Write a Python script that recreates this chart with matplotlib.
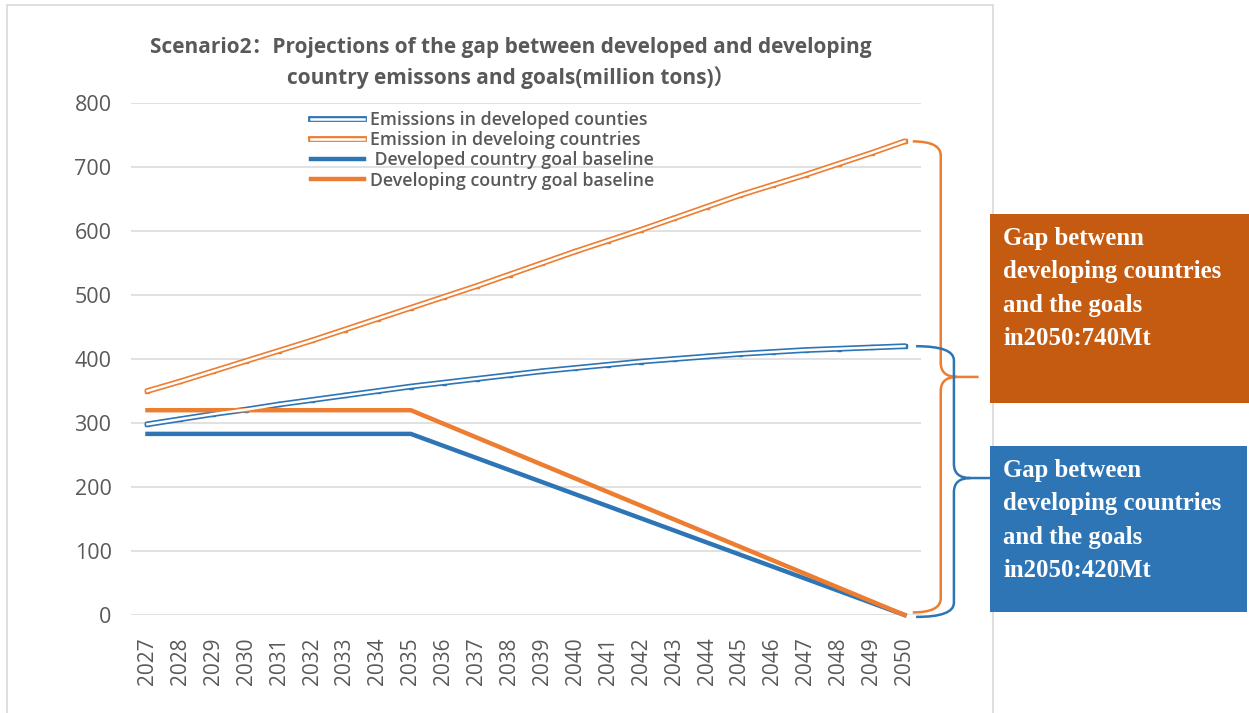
import matplotlib.pyplot as plt
from matplotlib.path import Path
from matplotlib.patches import PathPatch, Rectangle
from matplotlib.lines import Line2D

plt.rcParams['font.family'] = ['Open Sans', 'Noto Sans CJK SC', 'DejaVu Sans']

years = list(range(2027, 2051))
emis_developed = [298, 306, 314, 321, 329, 336, 343, 350, 357, 363, 369, 375,
                  381, 386, 391, 396, 400, 404, 408, 411, 414, 416, 418, 420]
emis_developing = [350, 365, 381, 397, 413, 429, 446, 463, 480, 497, 514, 532,
                   550, 568, 585, 602, 620, 638, 656, 672, 688, 705, 722, 740]
goal_developed = [283] * 9 + [283 * (2050 - y) / 15 for y in range(2036, 2051)]
goal_developing = [320] * 9 + [320 * (2050 - y) / 15 for y in range(2036, 2051)]

title = ('Scenario2：Projections of the gap between developed and developing\n'
         'country emissons and goals(million tons)）')
labels = ['Emissions in developed counties', 'Emission in develoing countries',
          ' Developed country goal baseline', 'Developing country goal baseline']
box_orange = 'Gap betwenn\ndeveloping countries\nand the goals\nin2050:740Mt'
box_blue = 'Gap between\ndeveloping countries\nand the goals\nin2050:420Mt'

BLUE = '#2E75B6'
ORANGE = '#ED7D31'
GRAY = '#595959'

fig = plt.figure(figsize=(12.49, 7.13), dpi=100)
W, H = 1249, 713

# chart area border
fig.patches.append(Rectangle((7 / W, -0.05), (993 - 7) / W, 1.05 - 5 / H,
                             transform=fig.transFigure, fill=False,
                             edgecolor='#D9D9D9', lw=1.2, zorder=0))

ax = fig.add_axes([131 / W, 1 - 615 / H, (921 - 131) / W, (615 - 103) / H])
ax.set_xlim(2026.5, 2050.5)
ax.set_ylim(0, 800)
ax.set_yticks(range(0, 801, 100))
ax.set_xticks(years)
ax.set_xticklabels([str(y) for y in years], rotation=90, color=GRAY, fontsize=15)
ax.tick_params(axis='y', labelsize=15.5, labelcolor=GRAY, length=0, pad=14)
ax.tick_params(axis='x', length=0, pad=16)
ax.grid(axis='y', color='#D9D9D9', lw=1.1)
ax.set_axisbelow(True)
for s in ax.spines.values():
    s.set_visible(False)

# double-line emission series
for vals, c in [(emis_developed, BLUE), (emis_developing, ORANGE)]:
    ax.plot(years, vals, color=c, lw=4.2, clip_on=False, zorder=3,
            marker='s', ms=3.2, solid_capstyle='round')
    ax.plot(years, vals, color='white', lw=1.8, clip_on=False, zorder=4)

ax.plot(years, goal_developed, color=BLUE, lw=3.2, clip_on=False, zorder=3)
ax.plot(years, goal_developing, color=ORANGE, lw=3.2, clip_on=False, zorder=3)

fig.text(0.409, 1 - 63 / H, title, ha='center', va='center', fontsize=15,
         fontweight='bold', color=GRAY, linespacing=1.45)

# legend
handles = [
    (Line2D([0], [0], color=BLUE, lw=4.2), Line2D([0], [0], color='white', lw=1.8)),
    (Line2D([0], [0], color=ORANGE, lw=4.2), Line2D([0], [0], color='white', lw=1.8)),
    Line2D([0], [0], color=BLUE, lw=3.2),
    Line2D([0], [0], color=ORANGE, lw=3.2),
]
leg = fig.legend(handles, labels, loc='upper left',
                 bbox_to_anchor=(304 / W, 1 - 104 / H), frameon=False,
                 fontsize=12.8, labelspacing=0.12, handlelength=3.0,
                 handletextpad=0.3, borderaxespad=0)
for t in leg.get_texts():
    t.set_color(GRAY)
    t.set_fontweight('semibold')


def brace(x0, xv, xt, ytop, ybot, ymid, ry, dx, color):
    verts = [(x0, ytop), (xv, ytop), (xv, ytop - ry),
             (xv, ymid + ry), (xv, ymid), (xv + dx, ymid),
             (xt, ymid),
             (xv + dx, ymid), (xv, ymid), (xv, ymid - ry),
             (xv, ybot + ry), (xv, ybot), (x0, ybot)]
    codes = [Path.MOVETO, Path.CURVE3, Path.CURVE3,
             Path.LINETO, Path.CURVE3, Path.CURVE3,
             Path.LINETO,
             Path.MOVETO, Path.CURVE3, Path.CURVE3,
             Path.LINETO, Path.CURVE3, Path.CURVE3]
    ax.add_patch(PathPatch(Path(verts, codes), fill=False, edgecolor=color,
                           lw=1.8, clip_on=False, zorder=5))


brace(2050.25, 2051.1, 2052.25, 740, 4, 372, 22, 0.5, ORANGE)
brace(2050.35, 2051.5, 2052.6, 420, -3, 214, 22, 0.5, BLUE)

# annotation boxes
for (x0, y0, x1, y1), col, txt in [((990, 214, 1249, 403), '#C55A11', box_orange),
                                    ((990, 446, 1247, 612), BLUE, box_blue)]:
    fig.patches.append(Rectangle((x0 / W, 1 - y1 / H), (x1 - x0) / W, (y1 - y0) / H,
                                 transform=fig.transFigure, facecolor=col,
                                 edgecolor='none', zorder=6))
    fig.text(1003 / W, 1 - (y0 + 13) / H, txt, ha='left', va='top',
             color='white', fontsize=17.8, fontweight='bold',
             family='Liberation Serif', linespacing=1.58, zorder=7)

fig.savefig('out.png', dpi=100)
